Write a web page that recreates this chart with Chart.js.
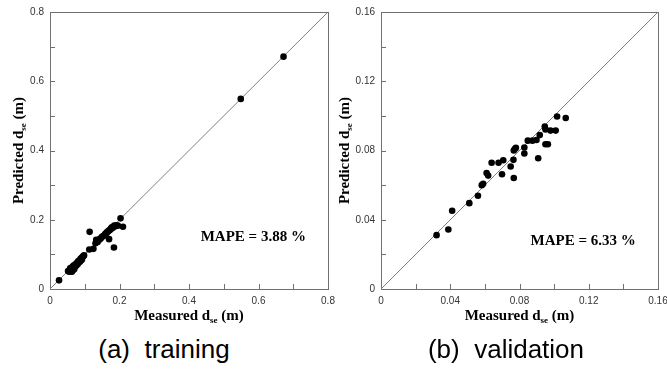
<!DOCTYPE html>
<html>
<head>
<meta charset="utf-8">
<script src="https://cdn.jsdelivr.net/npm/chart.js@4/dist/chart.umd.min.js"></script>
<style>
body{margin:0;background:#fff;width:667px;height:372px;position:relative;overflow:hidden;}
canvas{position:absolute;top:0;}
#c1{left:0;}
#c2{left:330px;}
.cap{position:absolute;top:336px;width:220px;text-align:center;line-height:26px;
font-family:"Liberation Sans",Arial,sans-serif;font-size:26px;white-space:pre;color:#000;}
</style>
</head>
<body>
<canvas id="c1" width="342" height="330"></canvas>
<canvas id="c2" width="337" height="330"></canvas>
<div class="cap" style="left:54px">(a)  training</div>
<div class="cap" style="left:396px">(b)  validation</div>
<script>
// training set (measured vs predicted, m)
var trainMeasured = [0.026,
0.052,0.055,0.057,0.058,0.060,0.061,0.062,0.063,0.065,0.066,0.067,0.068,0.069,0.070,0.072,0.073,0.075,0.076,0.078,0.080,0.081,0.083,0.085,0.086,0.088,0.089,0.091,0.092,0.094,0.096,0.098,
0.113,0.114,0.125,0.131,0.133,0.137,0.140,0.143,0.146,0.149,0.152,0.155,0.158,0.160,0.163,0.165,0.168,0.170,0.171,0.174,0.176,0.178,0.180,0.182,0.184,0.185,0.188,0.191,0.195,0.203,0.210,
0.549,0.672];
var trainPredicted = [0.025,
0.052,0.050,0.055,0.060,0.052,0.057,0.062,0.050,0.058,0.065,0.055,0.068,0.062,0.058,0.070,0.066,0.073,0.068,0.076,0.072,0.080,0.077,0.083,0.079,0.087,0.082,0.090,0.085,0.093,0.095,0.097,
0.114,0.165,0.116,0.132,0.142,0.136,0.141,0.144,0.146,0.150,0.152,0.154,0.157,0.160,0.162,0.165,0.167,0.144,0.170,0.172,0.175,0.178,0.176,0.180,0.120,0.183,0.181,0.184,0.183,0.204,0.180,
0.549,0.671];

// validation set
var validMeasured = [0.0321,0.0389,0.0411,0.0510,0.0560,0.0582,0.0590,0.0610,0.0619,0.0639,0.0679,0.0699,0.0706,0.0749,0.0765,0.0767,0.0767,0.0773,0.0779,0.0828,0.0828,0.0848,0.0875,0.0898,0.0908,0.0917,0.0946,0.0950,0.0950,0.0964,0.0979,0.1009,0.1017,0.1067];
var validPredicted = [0.0311,0.0344,0.0452,0.0496,0.0539,0.0600,0.0608,0.0670,0.0655,0.0729,0.0729,0.0663,0.0744,0.0708,0.0746,0.0800,0.0641,0.0809,0.0815,0.0817,0.0783,0.0857,0.0857,0.0861,0.0755,0.0889,0.0938,0.0922,0.0836,0.0836,0.0915,0.0915,0.0996,0.0988];

var trainTicks = [0,0.1,0.2,0.3,0.4,0.5,0.6,0.7,0.8];
var trainTickLabels = ['0','','0.2','','0.4','','0.6','','0.8'];
var validTicks = [0,0.02,0.04,0.06,0.08,0.1,0.12,0.14,0.16];
var validTickLabels = ['0','','0.04','','0.08','','0.12','','0.16'];

var trainMape = 'MAPE = 3.88 %';
var validMape = 'MAPE = 6.33 %';

var serif = '"Liberation Serif","Times New Roman",serif';

function drawSubText(ctx, parts, cx, cy){
  // parts: [text, isSub]
  var w = 0;
  parts.forEach(function(p){
    ctx.font = p[1] ? 'bold 9px '+serif : 'bold 15px '+serif;
    w += ctx.measureText(p[0]).width;
  });
  var x = cx - w/2;
  ctx.textBaseline = 'alphabetic';
  ctx.textAlign = 'left';
  parts.forEach(function(p){
    ctx.font = p[1] ? 'bold 9px '+serif : 'bold 15px '+serif;
    ctx.fillText(p[0], x, cy + 5 + (p[1] ? 3 : 0));
    x += ctx.measureText(p[0]).width;
  });
}

var framePlugin = {
  id:'frame',
  beforeDatasetsDraw:function(chart){
    var a = chart.chartArea, ctx = chart.ctx;
    var xs = chart.scales.x, ys = chart.scales.y;
    ctx.save();
    ctx.strokeStyle = '#707070';
    ctx.lineWidth = 1;
    ctx.strokeRect(Math.round(a.left)+0.5, Math.round(a.top)+0.5, Math.round(a.right-a.left), Math.round(a.bottom-a.top));
    ctx.beginPath();
    xs.ticks.forEach(function(t){
      var px = Math.round(xs.getPixelForValue(t.value))+0.5;
      ctx.moveTo(px, a.bottom); ctx.lineTo(px, a.bottom-5);
    });
    ys.ticks.forEach(function(t){
      var py = Math.round(ys.getPixelForValue(t.value))+0.5;
      ctx.moveTo(a.left, py); ctx.lineTo(a.left+5, py);
    });
    ctx.stroke();
    ctx.restore();
  },
  afterDraw:function(chart){
    var a = chart.chartArea, ctx = chart.ctx, o = chart.options.plugins.frame;
    ctx.save();
    ctx.fillStyle = '#000';
    drawSubText(ctx, [['Measured d',0],['se',1],[' (m)',0]], (a.left+a.right)/2, a.bottom+26);
    ctx.translate(a.left - o.yTitleOffset, (a.top+a.bottom)/2);
    ctx.rotate(-Math.PI/2);
    drawSubText(ctx, [['Predicted d',0],['se',1],[' (m)',0]], 0, 0);
    ctx.restore();
    ctx.save();
    ctx.fillStyle = '#000';
    ctx.font = 'bold 15px '+serif;
    ctx.textAlign = 'center';
    ctx.textBaseline = 'middle';
    ctx.fillText(o.mape, chart.scales.x.getPixelForValue(o.mapeX), chart.scales.y.getPixelForValue(o.mapeY));
    ctx.restore();
  }
};

function axis(ticks, labels, isY, width){
  return {
    type:'linear', min:ticks[0], max:ticks[ticks.length-1],
    grid:{display:false, drawTicks:false},
    border:{display:false},
    afterBuildTicks:function(s){ s.ticks = ticks.map(function(v){ return {value:v}; }); },
    afterFit:function(s){
      if(isY){ s.width = width; } else { s.height = width; }
      s.paddingLeft = 0; s.paddingRight = 0; s.paddingTop = 0; s.paddingBottom = 0;
    },
    ticks:{
      autoSkip:false, maxRotation:0, padding:6, color:'#333',
      font:{family:'"Liberation Sans",Arial,sans-serif', size:10},
      callback:function(v, i){ return labels[i]; }
    }
  };
}

function makeChart(id, xs, ys, ticks, labels, yWidth, padRight, mape, mapeX, mapeY, yTitleOffset){
  var pts = xs.map(function(x, i){ return {x:x, y:ys[i]}; });
  var lo = ticks[0], hi = ticks[ticks.length-1];
  new Chart(document.getElementById(id), {
    type:'scatter',
    data:{datasets:[
      {data:pts, backgroundColor:'#000', borderColor:'#000', pointRadius:3.3, pointBorderWidth:0, order:1},
      {data:[{x:lo,y:lo},{x:hi,y:hi}], showLine:true, pointRadius:0, borderColor:'#808080', borderWidth:1, order:2}
    ]},
    options:{
      responsive:false, animation:false,
      layout:{padding:{left:0, right:padRight, top:12, bottom:0}},
      plugins:{legend:{display:false}, tooltip:{enabled:false},
        frame:{mape:mape, mapeX:mapeX, mapeY:mapeY, yTitleOffset:yTitleOffset}},
      scales:{
        x:axis(ticks, labels, false, 41),
        y:axis(ticks, labels, true, yWidth)
      }
    },
    plugins:[framePlugin]
  });
}

makeChart('c1', trainMeasured, trainPredicted, trainTicks, trainTickLabels, 50, 14, trainMape, 0.585, 0.15, 32);
makeChart('c2', validMeasured, validPredicted, validTicks, validTickLabels, 51, 9, validMape, 0.1168, 0.0276, 37);
</script>
</body>
</html>
